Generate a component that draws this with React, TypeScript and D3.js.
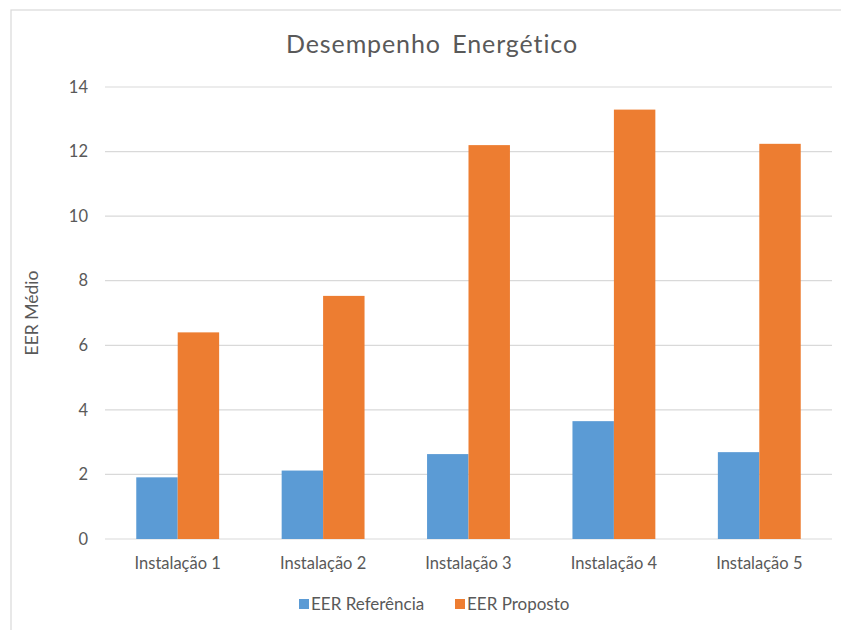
import React from 'react';
import * as d3 from 'd3';

const categories = ['Instalação 1', 'Instalação 2', 'Instalação 3', 'Instalação 4', 'Instalação 5'];
const seriesNames = ['EER Referência', 'EER Proposto'];
const eerReferencia = [1.91, 2.12, 2.63, 3.65, 2.69];
const eerProposto = [6.4, 7.53, 12.2, 13.3, 12.24];
const yTicks = [0, 2, 4, 6, 8, 10, 12, 14];

const colors = ['#5B9BD5', '#ED7D31'];
const textColor = '#595959';
const font = 'Lato, "Open Sans", sans-serif';

export default function App() {
  const width = 841;
  const height = 630;
  const margin = { left: 105, right: 9, top: 87, bottom: 91 };

  const x = d3
    .scaleBand()
    .domain(categories)
    .range([margin.left, width - margin.right])
    .paddingInner(0.43)
    .paddingOuter(0.215);

  const inner = d3.scaleBand().domain(seriesNames).range([0, x.bandwidth()]);

  const y = d3.scaleLinear().domain([0, 14]).range([height - margin.bottom, margin.top]);

  const series = [eerReferencia, eerProposto];

  return (
    <svg
      width={width}
      height={height}
      style={{ position: 'absolute', left: 0, top: 0, background: '#fff' }}
    >
      <rect x={11} y={10} width={width} height={height} fill="#fff" stroke="#D9D9D9" strokeWidth={1.2} />

      <text
        x={432}
        y={53}
        textAnchor="middle"
        fill={textColor}
        style={{ fontFamily: font, fontSize: 25, letterSpacing: 0.9, wordSpacing: 4 }}
      >
        Desempenho Energético
      </text>

      {yTicks.map(t => (
        <g key={t}>
          <line
            x1={margin.left}
            x2={width - margin.right}
            y1={y(t)}
            y2={y(t)}
            stroke="#D9D9D9"
            strokeWidth={1.2}
          />
          <text
            x={88}
            y={y(t)}
            dy="0.35em"
            textAnchor="end"
            fill={textColor}
            style={{ fontFamily: font, fontSize: 16.5 }}
          >
            {t}
          </text>
        </g>
      ))}

      {categories.map((c, i) => (
        <g key={c} transform={`translate(${x(c)},0)`}>
          {series.map((s, j) => (
            <rect
              key={j}
              x={inner(seriesNames[j])}
              y={y(s[i])}
              width={inner.bandwidth()}
              height={y(0) - y(s[i])}
              fill={colors[j]}
            />
          ))}
          <text
            x={x.bandwidth() / 2}
            y={569}
            textAnchor="middle"
            fill={textColor}
            style={{ fontFamily: font, fontSize: 16.5 }}
          >
            {c}
          </text>
        </g>
      ))}

      <text
        transform={`translate(38,${y(7)}) rotate(-90)`}
        textAnchor="middle"
        fill={textColor}
        style={{ fontFamily: font, fontSize: 17.5 }}
      >
        EER Médio
      </text>

      {seriesNames.map((n, j) => {
        const lx = j === 0 ? 299 : 455;
        return (
          <g key={n}>
            <rect x={lx} y={599} width={10} height={10} fill={colors[j]} />
            <text
              x={lx + 12}
              y={604}
              dy="0.35em"
              fill={textColor}
              style={{ fontFamily: font, fontSize: 17 }}
            >
              {n}
            </text>
          </g>
        );
      })}
    </svg>
  );
}
